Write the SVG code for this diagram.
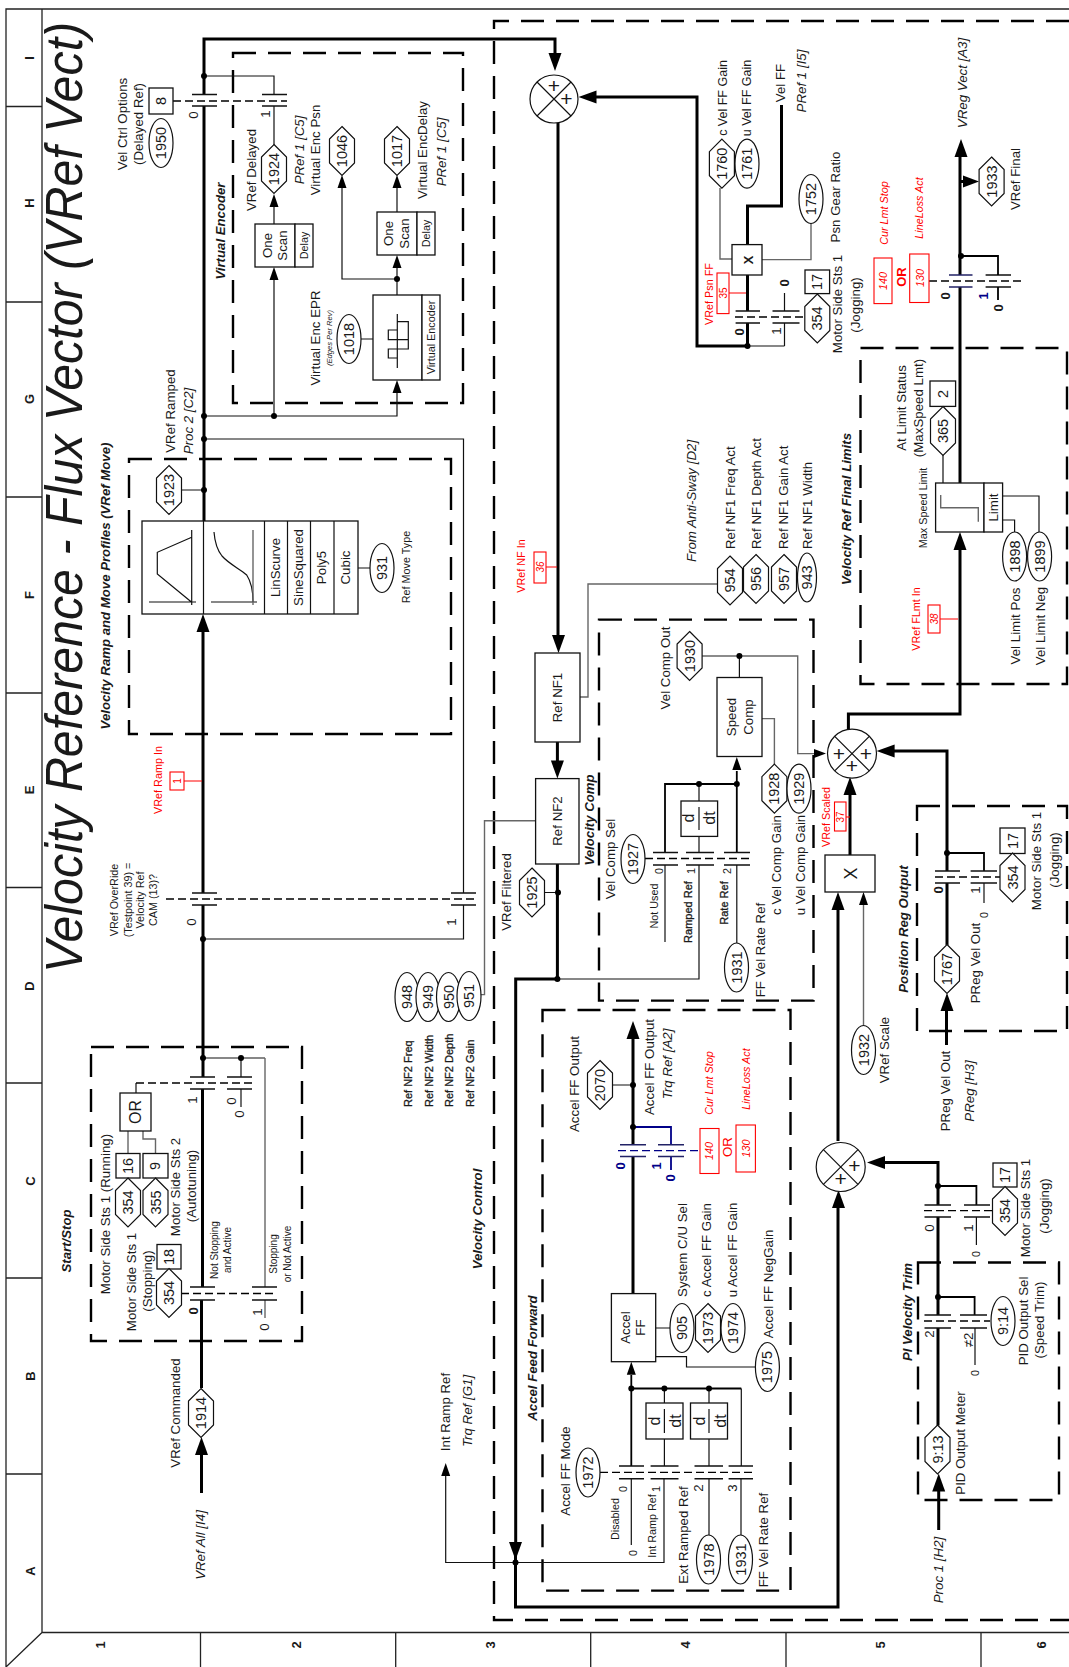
<svg xmlns="http://www.w3.org/2000/svg" width="1069" height="1667" viewBox="0 0 1069 1667">
<style>
text{font-family:"Liberation Sans",Arial,sans-serif;fill:#1a1a1a;text-anchor:middle;font-size:13.3px}
.i{font-style:italic}
.bi{font-style:italic;font-weight:bold;font-size:13.2px}
.s{font-size:10.8px}
.xs{font-size:10px}
.sb{font-size:11px;stroke:#222;stroke-width:.3}
.n{font-size:14.5px}
.big{font-size:16px}
.ns{font-size:12.5px}
.pl{font-size:21px}
.hd{font-weight:bold;font-size:13px}
.red{fill:#f00}
.navy{fill:#008}
.st{text-anchor:start}
.th{fill:none;stroke:#000;stroke-width:3}
.md{fill:none;stroke:#000;stroke-width:1.8}
.tn{fill:none;stroke:#111;stroke-width:1.2}
.gr{fill:none;stroke:#666;stroke-width:1.4}
.db{fill:none;stroke:#000;stroke-width:2.4;stroke-dasharray:23 12}
.da{fill:none;stroke:#000;stroke-width:1.3;stroke-dasharray:8 4}
.bar{fill:none;stroke:#111;stroke-width:1.5}
.bn{fill:none;stroke:#226;stroke-width:1.5}
.nv{fill:none;stroke:#008;stroke-width:1.8}
.dan{fill:none;stroke:#008;stroke-width:1.4;stroke-dasharray:8 4}
.rl{fill:none;stroke:#f00;stroke-width:1.1}
.box{fill:#fff;stroke:#111;stroke-width:1.3}
.nd{fill:#fff;stroke:#111;stroke-width:1.2}
.rb{fill:#fff;stroke:#f00;stroke-width:1.1}
.fr{fill:none;stroke:#222;stroke-width:1.3}
</style>
<defs>
<polygon id="hex" points="0,-24.5 12.5,-12 12.5,12 0,24.5 -12.5,12 -12.5,-12"/>
<ellipse id="ell" rx="12" ry="24.5"/>
<circle id="dot" r="3"/>
<polygon id="au" points="0,0 6.5,18 -6.5,18"/>
<polygon id="ad" points="0,0 6.5,-18 -6.5,-18"/>
<polygon id="al" points="0,0 18,-6.5 18,6.5"/>
<polygon id="ar" points="0,0 -16,-6 -16,6"/>
<polygon id="su" points="0,0 4.5,13 -4.5,13"/>
<polygon id="sr" points="0,0 -12,-4.5 -12,4.5"/>
</defs>

<g id="frame">
<path class="fr" d="M6 1667V9H1069M42 9V1632.5H1069M6 106.5H42M6 302H42M6 497H42M6 693H42M6 887.5H42M6 1083H42M6 1278H42M6 1474H42M6 1667L42 1632.5M200.5 1632.5V1667M395.7 1632.5V1667M590.7 1632.5V1667M786 1632.5V1667M981 1632.5V1667"/>
<text class="hd" transform="translate(34 58)rotate(-90)">I</text>
<text class="hd" transform="translate(34 203)rotate(-90)">H</text>
<text class="hd" transform="translate(34 399)rotate(-90)">G</text>
<text class="hd" transform="translate(34 595)rotate(-90)">F</text>
<text class="hd" transform="translate(34 790)rotate(-90)">E</text>
<text class="hd" transform="translate(34 986)rotate(-90)">D</text>
<text class="hd" transform="translate(35 1181)rotate(-90)">C</text>
<text class="hd" transform="translate(35 1376)rotate(-90)">B</text>
<text class="hd" transform="translate(35 1571)rotate(-90)">A</text>
<text class="hd" transform="translate(105 1645)rotate(-90)">1</text>
<text class="hd" transform="translate(301 1645)rotate(-90)">2</text>
<text class="hd" transform="translate(495 1645)rotate(-90)">3</text>
<text class="hd" transform="translate(690 1645)rotate(-90)">4</text>
<text class="hd" transform="translate(885 1645)rotate(-90)">5</text>
<text class="hd" transform="translate(1046 1645)rotate(-90)">6</text>
<text class="i st" style="font-size:52px" transform="translate(82 973)rotate(-90)scale(.93 1)">Velocity Reference - Flux Vector (VRef Vect)</text>
</g>

<g id="regions">
<path class="db" d="M1069 21H494V1620H1069"/>
<rect class="db" x="233" y="53" width="230" height="350"/>
<rect class="db" x="129" y="459" width="322" height="275"/>
<rect class="db" x="91" y="1047" width="211" height="294"/>
<rect class="db" x="860.5" y="348" width="206.5" height="336"/>
<rect class="db" x="599" y="619.6" width="214.5" height="381"/>
<rect class="db" x="917" y="806" width="150" height="225"/>
<rect class="db" x="542.5" y="1010" width="248" height="580.6"/>
<rect class="db" x="918" y="1262.5" width="141" height="237.5"/>
<text class="bi" transform="translate(225 231)rotate(-90)">Virtual Encoder</text>
<text class="bi" transform="translate(110 586)rotate(-90)">Velocity Ramp and Move Profiles (VRef Move)</text>
<text class="bi" transform="translate(71 1241)rotate(-90)">Start/Stop</text>
<text class="bi" transform="translate(482 1219)rotate(-90)">Velocity Control</text>
<text class="bi" transform="translate(851 509)rotate(-90)">Velocity Ref Final Limits</text>
<text class="bi" transform="translate(594 820)rotate(-90)">Velocity Comp</text>
<text class="bi" transform="translate(908 929)rotate(-90)">Position Reg Output</text>
<text class="bi" transform="translate(537 1358)rotate(-90)">Accel Feed Forward</text>
<text class="bi" transform="translate(912 1312)rotate(-90)">PI Velocity Trim</text>
</g>

<g id="connectors">
<path class="th" d="M204 94.6V39H555V55M204 106V521M203 630V893M203 905V1077M202.5 1089V1287M201.5 1300V1388M201.5 1452V1493"/>
<path class="th" d="M747.5 323V346H697V97H594M747.5 311V275M747.5 244.6V206H781.5V105"/>
<path class="th" d="M558 123V636M557.4 742V762M557.4 864V979H515.7V1550M515.5 1550V1607H838V1206M838 1141V908M850 855V793M848.4 729V714H960V548M960 483V287M960 275V156M961 181.5H965"/>
<path class="th" d="M892 751H947V871M947 883V945M946.5 1045V1009M883 1162.5H938V1205M938 1217V1315M938 1328V1425.5M938.7 1530V1490M633 1293.6V1157M633 1144.7V1038"/>
<use href="#ad" x="555" y="71"/><use href="#au" x="203" y="614"/><use href="#au" x="201.5" y="1437"/><use href="#al" x="578.5" y="97"/>
<use href="#ad" x="558.5" y="653"/><use href="#ad" x="557.4" y="778.6"/><use href="#au" x="838" y="892"/><use href="#au" x="838.5" y="1190"/>
<use href="#au" x="850" y="777"/><use href="#au" x="960" y="532"/><use href="#au" x="961" y="139"/><use href="#ar" x="979" y="181.5"/>
<use href="#al" x="876.6" y="751"/><use href="#au" x="947" y="993"/><use href="#al" x="867" y="1162.5"/><use href="#au" x="938.7" y="1473.6"/><use href="#au" x="633" y="1021"/>
<use href="#ad" x="515.5" y="1560"/>

<path class="tn" d="M204 76H274V94.6M274 106V145M274 224V205M274 416V280M204 416H397V393M397 295V268M397 279H342V188M397 212V188M204 439H463.5V893M463.5 905V939H203M181 490H204"/>
<use href="#su" x="274" y="194"/><use href="#su" x="274" y="267"/><use href="#su" x="397" y="380"/><use href="#su" x="397" y="255"/><use href="#su" x="342" y="175"/><use href="#su" x="397" y="175"/>
<path class="tn" d="M361 339H373M358 568H372M136 1093V1083"/>
<path class="tn" d="M203 1058H265M241 1058V1077M241 1089V1107"/>
<path class="gr" d="M265 1058V1287M265 1300V1318M128 1131V1153M143 1131V1139H155.5V1153"/>
<path class="bar" d="M192 94.6H217M192 106H217M262 94.6H287M262 106H287M192 893H217M192 905H217M451 893H476M451 905H476M190 1077H215M190 1089H215M227 1077H252M227 1089H252M190 1287H215M190 1300H215M252 1287H277M252 1300H277"/>
<path class="da" d="M173 101H287M166 899H476M136 1083H252M181 1293.5H277"/>

<path class="gr" d="M720 188V259H732M811 223V259.6H762M580 697H588V584H717.6M535.6 820.7H484.5V994.6H478M762 718.6H774.4V764M702 656H797.7V753.6H814M863.5 905V1026"/>
<use href="#sr" x="826" y="753.6"/><use href="#su" x="863.5" y="892"/>
<path class="tn" d="M784.5 346H747.5M784.5 346V323M784.5 311V293M544 892.5H557M1002.6 496H1039V532M1002.6 520H1014.6V532M943 455V483"/>
<path class="bar" d="M735.6 311H760M735.6 323H760M772.5 311H799.5M772.5 323H799.5M985.6 275H1011M985.6 287H1011"/>
<path class="bn" d="M949 275H972.5M949 287H972.5"/>
<path class="da" d="M735 317H805"/>
<path class="da" d="M929 281H1025"/>
<path class="md" d="M961 256H998V275M998 287V300"/>

<path class="md" d="M665 852V784H736.8M736.8 852V771"/>
<use href="#su" x="736.8" y="757"/>
<path class="tn" d="M665 865V942M699 784V801M699 836V852M699 865V979H557.4M736.8 865V943M739.4 656V677.5"/>
<path class="bar" d="M653 852.5H678M653 865H678M686 852.5H714M686 865H714M724 852.5H750M724 865H750"/>
<path class="da" d="M645 858.5H750"/>

<path class="md" d="M947 853H984V871M938 1186H976.4V1205M938 1297H974.6V1315"/>
<path class="tn" d="M984 883V903M976.4 1217V1245M975 1328V1365"/>
<path class="bar" d="M935 871H960M935 883H960M970.6 871H997M970.6 883H997M924.5 1205H951M924.5 1217H951M964 1205H990M964 1217H990M924.5 1315H951M924.5 1328H951M960 1315H987M960 1328H987"/>
<path class="da" d="M935 877H1000M924 1210.6H993M924 1321H990"/>

<path class="nv" d="M633 1127H671V1145M671 1157V1170"/>
<path class="bn" d="M620 1144.7H646M620 1156.6H646M658 1144.7H684M658 1156.6H684"/>
<path class="dan" d="M618 1150.6H700"/>
<path class="tn" d="M612.5 1085H633M655.7 1328H670M655.7 1356.6H686.5V1367H755.4M631.3 1479V1545M664 1479V1562.5H445.7V1476"/>
<path class="md" d="M631.3 1466V1375M631.3 1388.5H741.3"/>
<path class="tn" d="M741.3 1388.5V1466M664.4 1388.5V1403M664.4 1439V1466M709 1388.5V1403M709 1439V1466M709 1479V1535M741 1479V1535"/>
<use href="#su" x="631.3" y="1361.7"/>
<use href="#su" x="445.7" y="1463"/>
<path class="bar" d="M619 1466H644M619 1478.7H644M650.6 1466H678.5M650.6 1478.7H678.5M694.5 1466H723M694.5 1478.7H723M728.6 1466H753M728.6 1478.7H753"/>
<path class="da" d="M600 1472.3H753"/>

<path class="rl" d="M184 781H202M546 567H557M729 293H746M846 817H850M940 619H958"/>

<g id="dots">
<use href="#dot" x="204" y="76"/><use href="#dot" x="204" y="416"/><use href="#dot" x="204" y="439"/><use href="#dot" x="204" y="490"/>
<use href="#dot" x="274" y="416"/><use href="#dot" x="397" y="279"/><use href="#dot" x="203" y="939"/><use href="#dot" x="203" y="1058"/><use href="#dot" x="241" y="1058"/>
<use href="#dot" x="747.5" y="346"/><use href="#dot" x="961" y="256"/><use href="#dot" x="739.4" y="656"/><use href="#dot" x="699" y="784"/><use href="#dot" x="736.8" y="784"/>
<use href="#dot" x="558" y="892.5"/><use href="#dot" x="557.4" y="979"/><use href="#dot" x="947" y="853"/><use href="#dot" x="938" y="1186"/><use href="#dot" x="938" y="1297"/>
<use href="#dot" x="633" y="1127"/><use href="#dot" x="633" y="1085"/><use href="#dot" x="631.3" y="1388.5"/><use href="#dot" x="664.4" y="1388.5"/><use href="#dot" x="709" y="1388.5"/><use href="#dot" x="515.5" y="1562.5"/>
</g>
</g>

<g id="labels">
<text transform="translate(127 124)rotate(-90)">Vel Ctrl Options</text>
<text transform="translate(143 124)rotate(-90)">(Delayed Ref)</text>
<text transform="translate(198 115)rotate(-90)">0</text>
<text transform="translate(270 114)rotate(-90)">1</text>
<text transform="translate(256 170)rotate(-90)">VRef Delayed</text>
<text class="i" transform="translate(304 150)rotate(-90)">PRef 1 [C5]</text>
<text transform="translate(320 150)rotate(-90)">Virtual Enc Psn</text>
<text transform="translate(427 150)rotate(-90)">Virtual EncDelay</text>
<text class="i" transform="translate(446 152)rotate(-90)">PRef 1 [C5]</text>
<text transform="translate(320 338)rotate(-90)">Virtual Enc EPR</text>
<text class="i" style="font-size:7.6px" transform="translate(332 338)rotate(-90)">(Edges Per Rev)</text>
<text transform="translate(175 411)rotate(-90)">VRef Ramped</text>
<text class="i" transform="translate(193 421)rotate(-90)">Proc 2 [C2]</text>
<text class="s" transform="translate(410 567)rotate(-90)">Ref Move Type</text>
<text class="s red" transform="translate(162 780)rotate(-90)">VRef Ramp In</text>
<text class="s" transform="translate(118 900)rotate(-90)">VRef OverRide</text>
<text class="s" transform="translate(132 900)rotate(-90)">(Testpoint 39) =</text>
<text class="s" transform="translate(144 900)rotate(-90)">Velocity Ref</text>
<text class="s" transform="translate(157 900)rotate(-90)">CAM (13)?</text>
<text transform="translate(196 922)rotate(-90)">0</text>
<text transform="translate(456 922)rotate(-90)">1</text>
<text transform="translate(197 1100)rotate(-90)">1</text>
<text transform="translate(236 1101)rotate(-90)">0</text>
<text transform="translate(244 1114)rotate(-90)">0</text>
<text class="hd" transform="translate(198 1311)rotate(-90)">0</text>
<text transform="translate(262 1312)rotate(-90)">1</text>
<text transform="translate(269 1327)rotate(-90)">0</text>
<text transform="translate(110 1214)rotate(-90)">Motor Side Sts 1 (Running)</text>
<text transform="translate(136 1282)rotate(-90)">Motor Side Sts 1</text>
<text transform="translate(152 1281)rotate(-90)">(Stopping)</text>
<text transform="translate(180 1187)rotate(-90)">Motor Side Sts 2</text>
<text transform="translate(196 1186)rotate(-90)">(Autotuning)</text>
<text class="xs" transform="translate(218 1250)rotate(-90)">Not Stopping</text>
<text class="xs" transform="translate(231 1250)rotate(-90)">and Active</text>
<text class="xs" transform="translate(277 1254)rotate(-90)">Stopping</text>
<text class="xs" transform="translate(291 1254)rotate(-90)">or Not Active</text>
<text transform="translate(180 1413)rotate(-90)">VRef Commanded</text>
<text class="i" transform="translate(205 1545)rotate(-90)">VRef All [I4]</text>
<text transform="translate(450 1412)rotate(-90)">Int Ramp Ref</text>
<text class="i" transform="translate(472 1411)rotate(-90)">Trq Ref [G1]</text>
<text class="sb st" transform="translate(412 1107)rotate(-90)">Ref NF2 Freq</text>
<text class="sb st" transform="translate(433 1107)rotate(-90)">Ref NF2 Width</text>
<text class="sb st" transform="translate(453 1107)rotate(-90)">Ref NF2 Depth</text>
<text class="sb st" transform="translate(474 1107)rotate(-90)">Ref NF2 Gain</text>
<text transform="translate(511 892)rotate(-90)">VRef Filtered</text>
<text class="s red" transform="translate(525 566)rotate(-90)">VRef NF In</text>
<text class="i" transform="translate(696 501)rotate(-90)">From Anti-Sway [D2]</text>
<text class="st" transform="translate(735 549)rotate(-90)">Ref NF1 Freq Act</text>
<text class="st" transform="translate(761 549)rotate(-90)">Ref NF1 Depth Act</text>
<text class="st" transform="translate(788 549)rotate(-90)">Ref NF1 Gain Act</text>
<text class="st" transform="translate(812 549)rotate(-90)">Ref NF1 Width</text>
<text transform="translate(670 668)rotate(-90)">Vel Comp Out</text>
<text transform="translate(615 859)rotate(-90)">Vel Comp Sel</text>
<text transform="translate(781 865)rotate(-90)">c Vel Comp Gain</text>
<text transform="translate(805 865)rotate(-90)">u Vel Comp Gain</text>
<text class="s" transform="translate(658 906)rotate(-90)">Not Used</text>
<text class="sb" transform="translate(692 912)rotate(-90)">Ramped Ref</text>
<text class="sb" transform="translate(728 903)rotate(-90)">Rate Ref</text>
<text transform="translate(765 950)rotate(-90)">FF Vel Rate Ref</text>
<text class="s" transform="translate(663 871)rotate(-90)">0</text>
<text class="s" transform="translate(695 871)rotate(-90)">1</text>
<text class="s" transform="translate(731 871)rotate(-90)">2</text>
<text class="s red" transform="translate(830 817)rotate(-90)">VRef Scaled</text>
<text transform="translate(889 1050)rotate(-90)">VRef Scale</text>
<text transform="translate(980 963)rotate(-90)">PReg Vel Out</text>
<text transform="translate(950 1091)rotate(-90)">PReg Vel Out</text>
<text class="i" transform="translate(974 1091)rotate(-90)">PReg [H3]</text>
<text class="hd" transform="translate(943 890)rotate(-90)">0</text>
<text transform="translate(980 890)rotate(-90)">1</text>
<text class="s" transform="translate(988 915)rotate(-90)">0</text>
<text transform="translate(1041 861)rotate(-90)">Motor Side Sts 1</text>
<text transform="translate(1059 860)rotate(-90)">(Jogging)</text>
<text class="s red" transform="translate(920 619)rotate(-90)">VRef FLmt In</text>
<text transform="translate(1020 626)rotate(-90)">Vel Limit Pos</text>
<text transform="translate(1045 626)rotate(-90)">Vel Limit Neg</text>
<text transform="translate(906 408)rotate(-90)">At Limit Status</text>
<text transform="translate(923 408)rotate(-90)">(MaxSpeed Lmt)</text>
<text class="s" transform="translate(927 508)rotate(-90)">Max Speed Limit</text>
<text class="i" transform="translate(967 83)rotate(-90)">VReg Vect [A3]</text>
<text transform="translate(1020 179)rotate(-90)">VRef Final</text>
<text class="s red i" transform="translate(888 213)rotate(-90)">Cur Lmt Stop</text>
<text class="s red i" transform="translate(923 208)rotate(-90)">LineLoss Act</text>
<text class="hd red" transform="translate(906 277)rotate(-90)">OR</text>
<text class="hd" transform="translate(950 296)rotate(-90)">0</text>
<text class="hd navy" transform="translate(988 296)rotate(-90)">1</text>
<text class="hd" transform="translate(1003 308)rotate(-90)">0</text>
<text class="ns" transform="translate(727 98)rotate(-90)">c Vel FF Gain</text>
<text class="ns" transform="translate(751 98)rotate(-90)">u Vel FF Gain</text>
<text transform="translate(785 83)rotate(-90)">Vel FF</text>
<text class="i" transform="translate(806 81)rotate(-90)">PRef 1 [I5]</text>
<text transform="translate(840 197)rotate(-90)">Psn Gear Ratio</text>
<text transform="translate(842 304)rotate(-90)">Motor Side Sts 1</text>
<text transform="translate(860 305)rotate(-90)">(Jogging)</text>
<text class="s red" transform="translate(713 294)rotate(-90)">VRef Psn FF</text>
<text class="hd" transform="translate(744 332)rotate(-90)">0</text>
<text transform="translate(781 331)rotate(-90)">1</text>
<text class="hd" transform="translate(789 283)rotate(-90)">0</text>
<text transform="translate(934 1228)rotate(-90)">0</text>
<text transform="translate(973 1228)rotate(-90)">1</text>
<text class="s" transform="translate(980 1254)rotate(-90)">0</text>
<text transform="translate(1030 1208)rotate(-90)">Motor Side Sts 1</text>
<text transform="translate(1049 1206)rotate(-90)">(Jogging)</text>
<text transform="translate(1028 1321)rotate(-90)">PID Output Sel</text>
<text transform="translate(1044 1320)rotate(-90)">(Speed Trim)</text>
<text transform="translate(934 1334)rotate(-90)">2</text>
<text transform="translate(973 1340)rotate(-90)">≠2</text>
<text class="s" transform="translate(979 1373)rotate(-90)">0</text>
<text transform="translate(965 1443)rotate(-90)">PID Output Meter</text>
<text class="i" transform="translate(943 1570)rotate(-90)">Proc 1 [H2]</text>
<text transform="translate(579 1084)rotate(-90)">Accel FF Output</text>
<text transform="translate(654 1067)rotate(-90)">Accel FF Output</text>
<text class="i" transform="translate(672 1064)rotate(-90)">Trq Ref [A2]</text>
<text class="s red i" transform="translate(713 1083)rotate(-90)">Cur Lmt Stop</text>
<text class="s red i" transform="translate(750 1079)rotate(-90)">LineLoss Act</text>
<text class="red" transform="translate(732 1147)rotate(-90)">OR</text>
<text class="hd navy" transform="translate(625 1166)rotate(-90)">0</text>
<text class="hd navy" transform="translate(661 1166)rotate(-90)">1</text>
<text class="hd navy" transform="translate(675 1178)rotate(-90)">0</text>
<text transform="translate(687 1250)rotate(-90)">System C/U Sel</text>
<text transform="translate(711 1250)rotate(-90)">c Accel FF Gain</text>
<text transform="translate(737 1250)rotate(-90)">u Accel FF Gain</text>
<text transform="translate(773 1284)rotate(-90)">Accel FF NegGain</text>
<text transform="translate(570 1471)rotate(-90)">Accel FF Mode</text>
<text class="s" transform="translate(619 1519)rotate(-90)">Disabled</text>
<text class="s" transform="translate(656 1526)rotate(-90)">Int Ramp Ref</text>
<text transform="translate(688 1535)rotate(-90)">Ext Ramped Ref</text>
<text transform="translate(768 1540)rotate(-90)">FF Vel Rate Ref</text>
<text class="s" transform="translate(627 1489)rotate(-90)">0</text>
<text class="s" transform="translate(660 1489)rotate(-90)">1</text>
<text transform="translate(703 1488)rotate(-90)">2</text>
<text transform="translate(737 1488)rotate(-90)">3</text>
<text class="s" transform="translate(637 1553)rotate(-90)">0</text>
</g>

<g id="nodes">
<g id="box-8"><rect class="box" x="149" y="88" width="24" height="26"/><text class="n" transform="translate(166 101)rotate(-90)">8</text></g>
<g id="p1950"><use class="nd" href="#ell" x="161" y="143"/><text class="n" transform="translate(166 143)rotate(-90)">1950</text></g>
<g id="p1924"><use class="nd" href="#hex" x="274" y="169"/><text class="n" transform="translate(279 169)rotate(-90)">1924</text></g>
<g id="p1046"><use class="nd" href="#hex" x="342" y="151"/><text class="n" transform="translate(347 151)rotate(-90)">1046</text></g>
<g id="p1017"><use class="nd" href="#hex" x="397" y="151"/><text class="n" transform="translate(402 151)rotate(-90)">1017</text></g>
<g id="p1018"><use class="nd" href="#ell" x="349" y="339"/><text class="n" transform="translate(354 339)rotate(-90)">1018</text></g>
<g id="p1923"><use class="nd" href="#hex" x="169" y="490"/><text class="n" transform="translate(174 490)rotate(-90)">1923</text></g>
<g id="delay1"><rect class="box" x="255" y="224" width="40" height="43"/><rect class="box" x="295" y="224" width="18" height="43"/><text transform="translate(272 245.5)rotate(-90)">One</text><text transform="translate(287 245.5)rotate(-90)">Scan</text><text class="s" transform="translate(308 245.5)rotate(-90)">Delay</text></g>
<g id="delay2"><rect class="box" x="377" y="212" width="40" height="43"/><rect class="box" x="417" y="212" width="18" height="43"/><text transform="translate(393 233.5)rotate(-90)">One</text><text transform="translate(409 233.5)rotate(-90)">Scan</text><text class="s" transform="translate(430 233.5)rotate(-90)">Delay</text></g>
<g id="virtual-encoder"><rect class="box" x="373" y="295" width="49" height="85"/><rect class="box" x="422" y="295" width="18" height="85"/><path class="tn" d="M397.3 314V368M397.3 321.7H408.3V339.7H388.3V330H397.3M408.3 339.7V349H388.3V358H397.3"/><text class="s" transform="translate(435 337.5)rotate(-90)">Virtual Encoder</text></g>
<g id="ramp-block">
<rect class="box" x="142" y="521" width="216" height="93"/>
<path class="tn" d="M203.5 521V614M264.5 521V614M287.5 521V614M310.5 521V614M334 521V614M191.7 530V605M149 602H196M191.7 537.3L157.3 552.3V574L191.7 602.3M211 602H257M214 532C215 545 218 551 222 556C229 564 240 569 246.7 575C250 580 253 590 253 602"/>
<path class="gr" d="M253 530V605"/>
<text transform="translate(280 567.5)rotate(-90)">LinScurve</text>
<text transform="translate(303 567.5)rotate(-90)">SineSquared</text>
<text transform="translate(326 567.5)rotate(-90)">Poly5</text>
<text transform="translate(350 567.5)rotate(-90)">Cubic</text>
</g>
<g id="p931"><use class="nd" href="#ell" x="382" y="568"/><text class="n" transform="translate(387 568)rotate(-90)">931</text></g>
<g id="r1"><rect class="rb" x="170" y="772" width="14" height="18"/><text class="xs red" transform="translate(181 781)rotate(-90)">1</text></g>
<g id="or-run"><rect class="box" x="120" y="1093" width="31" height="38"/><text class="big" transform="translate(141 1112)rotate(-90)">OR</text></g>
<g id="box-16"><rect class="box" x="116" y="1153.5" width="24" height="24.5"/><text class="n" transform="translate(133 1166)rotate(-90)">16</text></g>
<g id="box-9"><rect class="box" x="143" y="1153.5" width="25" height="24.5"/><text class="n" transform="translate(160 1166)rotate(-90)">9</text></g>
<g id="p354a"><use class="nd" href="#hex" x="128" y="1202.5"/><text class="n" transform="translate(133 1202.5)rotate(-90)">354</text></g>
<g id="p355"><use class="nd" href="#hex" x="155.5" y="1202.5"/><text class="n" transform="translate(160.5 1202.5)rotate(-90)">355</text></g>
<g id="box-18"><rect class="box" x="157" y="1244.5" width="24" height="24.5"/><text class="n" transform="translate(174 1257)rotate(-90)">18</text></g>
<g id="p354b"><use class="nd" href="#hex" x="169" y="1293"/><text class="n" transform="translate(174 1293)rotate(-90)">354</text></g>
<g id="p1914"><use class="nd" href="#hex" x="201" y="1413"/><text class="n" transform="translate(206 1413)rotate(-90)">1914</text></g>
<g id="p948"><use class="nd" href="#ell" x="407" y="997"/><text class="n" transform="translate(412 997)rotate(-90)">948</text></g>
<g id="p949"><use class="nd" href="#ell" x="428" y="997"/><text class="n" transform="translate(433 997)rotate(-90)">949</text></g>
<g id="p950"><use class="nd" href="#ell" x="448.5" y="997"/><text class="n" transform="translate(453.5 997)rotate(-90)">950</text></g>
<g id="p951"><use class="nd" href="#ell" x="469" y="996"/><text class="n" transform="translate(474 996)rotate(-90)">951</text></g>
<g id="sum1"><circle class="nd" cx="554" cy="99" r="24"/><path class="tn" d="M537 82L571 116M537 116L571 82"/><text class="pl" x="554" y="93">+</text><text class="pl" x="566.5" y="106">+</text></g>
<g id="ref-nf1"><rect class="box" x="535" y="653" width="45" height="89"/><text transform="translate(562 697.5)rotate(-90)">Ref NF1</text></g>
<g id="ref-nf2"><rect class="box" x="535.6" y="778.6" width="43.4" height="85.4"/><text transform="translate(562 821)rotate(-90)">Ref NF2</text></g>
<g id="r36"><rect class="rb" x="534" y="552" width="12" height="31"/><text class="xs red i" transform="translate(544 567)rotate(-90)">36</text></g>
<g id="p954"><use class="nd" href="#hex" x="730" y="580.5"/><text class="n" transform="translate(735 580.5)rotate(-90)">954</text></g>
<g id="p956"><use class="nd" href="#hex" x="756" y="579"/><text class="n" transform="translate(761 579)rotate(-90)">956</text></g>
<g id="p957"><use class="nd" href="#hex" x="784" y="579"/><text class="n" transform="translate(789 579)rotate(-90)">957</text></g>
<g id="p943"><ellipse class="nd" cx="807" cy="577.5" rx="9.5" ry="24.5"/><text class="n" transform="translate(812 577.5)rotate(-90)">943</text></g>
<g id="p1925"><use class="nd" href="#hex" x="532" y="892.5"/><text class="n" transform="translate(537 892.5)rotate(-90)">1925</text></g>
<g id="p1930"><use class="nd" href="#hex" x="689.6" y="656"/><text class="n" transform="translate(694.6 656)rotate(-90)">1930</text></g>
<g id="speed-comp"><rect class="box" x="717" y="677.5" width="45" height="79"/><text transform="translate(735.6 717)rotate(-90)">Speed</text><text transform="translate(752.5 717)rotate(-90)">Comp</text></g>
<g id="ddt1"><rect class="box" x="681" y="801" width="36.6" height="35.4"/><path class="tn" d="M699 807V830"/><text class="big" transform="translate(694 818)rotate(-90)">d</text><text class="big" transform="translate(715 818)rotate(-90)">dt</text></g>
<g id="p1928"><use class="nd" href="#hex" x="774.4" y="788.7"/><text class="n" transform="translate(779.4 788.7)rotate(-90)">1928</text></g>
<g id="p1929"><use class="nd" href="#ell" x="799" y="788.7"/><text class="n" transform="translate(804 788.7)rotate(-90)">1929</text></g>
<g id="p1927"><use class="nd" href="#ell" x="633" y="859"/><text class="n" transform="translate(638 859)rotate(-90)">1927</text></g>
<g id="p1931a"><use class="nd" href="#ell" x="736.5" y="967.5"/><text class="n" transform="translate(741.5 967.5)rotate(-90)">1931</text></g>
<g id="sum2"><circle class="nd" cx="852" cy="753.6" r="24.5"/><path class="tn" d="M834.7 736.3L869.3 770.9M834.7 770.9L869.3 736.3"/><text class="pl" x="839" y="760.6">+</text><text class="pl" x="866" y="760.6">+</text><text class="pl" x="852" y="773">+</text></g>
<g id="mul2"><rect class="box" x="825" y="855" width="50" height="37"/><text style="font-size:18px" transform="translate(856.5 873.5)rotate(-90)">X</text></g>
<g id="r37"><rect class="rb" x="834.5" y="802" width="11.5" height="29"/><text class="xs red" transform="translate(844 817)rotate(-90)">37</text></g>
<g id="p1932"><use class="nd" href="#ell" x="863.5" y="1050"/><text class="n" transform="translate(868.5 1050)rotate(-90)">1932</text></g>
<g id="box-17a"><rect class="box" x="1000" y="828" width="25" height="25.5"/><text class="n" transform="translate(1017.5 841)rotate(-90)">17</text></g>
<g id="p354c"><use class="nd" href="#hex" x="1012.5" y="877.5"/><text class="n" transform="translate(1017.5 877.5)rotate(-90)">354</text></g>
<g id="p1767"><use class="nd" href="#hex" x="947" y="969"/><text class="n" transform="translate(952 969)rotate(-90)">1767</text></g>
<g id="limit"><rect class="box" x="935.6" y="483" width="48.4" height="49"/><rect class="box" x="984" y="483" width="18.6" height="49"/><path class="gr" d="M940.7 495V507.7H978.3V521.7"/><text transform="translate(998 507.5)rotate(-90)">Limit</text></g>
<g id="box-2"><rect class="box" x="930" y="381" width="25.6" height="25.4"/><text class="n" transform="translate(948 394)rotate(-90)">2</text></g>
<g id="p365"><use class="nd" href="#hex" x="943" y="431"/><text class="n" transform="translate(948 431)rotate(-90)">365</text></g>
<g id="p1898"><use class="nd" href="#ell" x="1014.6" y="556.5"/><text class="n" transform="translate(1019.6 556.5)rotate(-90)">1898</text></g>
<g id="p1899"><use class="nd" href="#ell" x="1039.6" y="556.5"/><text class="n" transform="translate(1044.6 556.5)rotate(-90)">1899</text></g>
<g id="r38"><rect class="rb" x="928" y="605" width="12" height="28"/><text class="xs red i" transform="translate(938 619)rotate(-90)">38</text></g>
<g id="p1933"><use class="nd" href="#hex" x="991.6" y="181.5"/><text class="n" transform="translate(996.6 181.5)rotate(-90)">1933</text></g>
<g id="r140a"><rect class="rb" x="874" y="258" width="18" height="45.6"/><text class="s red i" transform="translate(887 281)rotate(-90)">140</text></g>
<g id="r130a"><rect class="rb" x="909.7" y="254" width="19.3" height="48.5"/><text class="s red i" transform="translate(923.5 278)rotate(-90)">130</text></g>
<g id="mul1"><rect class="box" x="732" y="244.6" width="30" height="30.4"/><text class="hd" transform="translate(752.5 260)rotate(-90)">X</text></g>
<g id="r35"><rect class="rb" x="717" y="273" width="12" height="40.6"/><text class="xs red" transform="translate(727 293)rotate(-90)">35</text></g>
<g id="p1760"><use class="nd" href="#hex" x="721.9" y="163.7"/><text class="n" transform="translate(726.9 163.7)rotate(-90)">1760</text></g>
<g id="p1761"><use class="nd" href="#ell" x="747" y="163.7"/><text class="n" transform="translate(752 163.7)rotate(-90)">1761</text></g>
<g id="p1752"><use class="nd" href="#ell" x="811" y="199"/><text class="n" transform="translate(816 199)rotate(-90)">1752</text></g>
<g id="box-17b"><rect class="box" x="805" y="270" width="24.6" height="23.6"/><text class="n" transform="translate(822 282)rotate(-90)">17</text></g>
<g id="p354d"><use class="nd" href="#hex" x="817.3" y="318.5"/><text class="n" transform="translate(822.3 318.5)rotate(-90)">354</text></g>
<g id="sum3"><circle class="nd" cx="840.7" cy="1167" r="24.5"/><path class="tn" d="M823.4 1149.7L858 1184.3M823.4 1184.3L858 1149.7"/><text class="pl" x="854.5" y="1173">+</text><text class="pl" x="840.7" y="1186">+</text></g>
<g id="box-17c"><rect class="box" x="993" y="1163" width="24" height="24"/><text class="n" transform="translate(1010 1175)rotate(-90)">17</text></g>
<g id="p354e"><use class="nd" href="#hex" x="1005" y="1211"/><text class="n" transform="translate(1010 1211)rotate(-90)">354</text></g>
<g id="p914"><use class="nd" href="#ell" x="1003" y="1321"/><text class="n" transform="translate(1008 1321)rotate(-90)">9:14</text></g>
<g id="p913"><use class="nd" href="#hex" x="937.5" y="1449.5"/><text class="n" transform="translate(942.5 1449.5)rotate(-90)">9:13</text></g>
<g id="p2070"><use class="nd" href="#hex" x="600" y="1085"/><text class="n" transform="translate(605 1085)rotate(-90)">2070</text></g>
<g id="r140b"><rect class="rb" x="700" y="1128.5" width="19" height="45"/><text class="s red i" transform="translate(713 1151)rotate(-90)">140</text></g>
<g id="r130b"><rect class="rb" x="736" y="1125" width="19.4" height="47"/><text class="s red i" transform="translate(750 1148.5)rotate(-90)">130</text></g>
<g id="accel-ff"><rect class="box" x="611.4" y="1293.6" width="44.3" height="68.1"/><text transform="translate(630 1327.6)rotate(-90)">Accel</text><text transform="translate(645 1327.6)rotate(-90)">FF</text></g>
<g id="p905"><use class="nd" href="#ell" x="682" y="1328"/><text class="n" transform="translate(687 1328)rotate(-90)">905</text></g>
<g id="p1973"><use class="nd" href="#hex" x="708" y="1328"/><text class="n" transform="translate(713 1328)rotate(-90)">1973</text></g>
<g id="p1974"><use class="nd" href="#ell" x="733" y="1328"/><text class="n" transform="translate(738 1328)rotate(-90)">1974</text></g>
<g id="p1975"><use class="nd" href="#ell" x="767.4" y="1367"/><text class="n" transform="translate(772.4 1367)rotate(-90)">1975</text></g>
<g id="ddt2"><rect class="box" x="646" y="1403" width="37" height="36"/><path class="tn" d="M664.4 1409V1433"/><text class="big" transform="translate(660 1421)rotate(-90)">d</text><text class="big" transform="translate(681 1421)rotate(-90)">dt</text></g>
<g id="ddt3"><rect class="box" x="690.5" y="1403" width="37" height="36"/><path class="tn" d="M709 1409V1433"/><text class="big" transform="translate(705 1421)rotate(-90)">d</text><text class="big" transform="translate(726 1421)rotate(-90)">dt</text></g>
<g id="p1972"><use class="nd" href="#ell" x="588" y="1472.5"/><text class="n" transform="translate(593 1472.5)rotate(-90)">1972</text></g>
<g id="p1978"><use class="nd" href="#ell" x="708.5" y="1559.5"/><text class="n" transform="translate(713.5 1559.5)rotate(-90)">1978</text></g>
<g id="p1931b"><use class="nd" href="#ell" x="740.5" y="1559.5"/><text class="n" transform="translate(745.5 1559.5)rotate(-90)">1931</text></g>
</g>
</svg>
